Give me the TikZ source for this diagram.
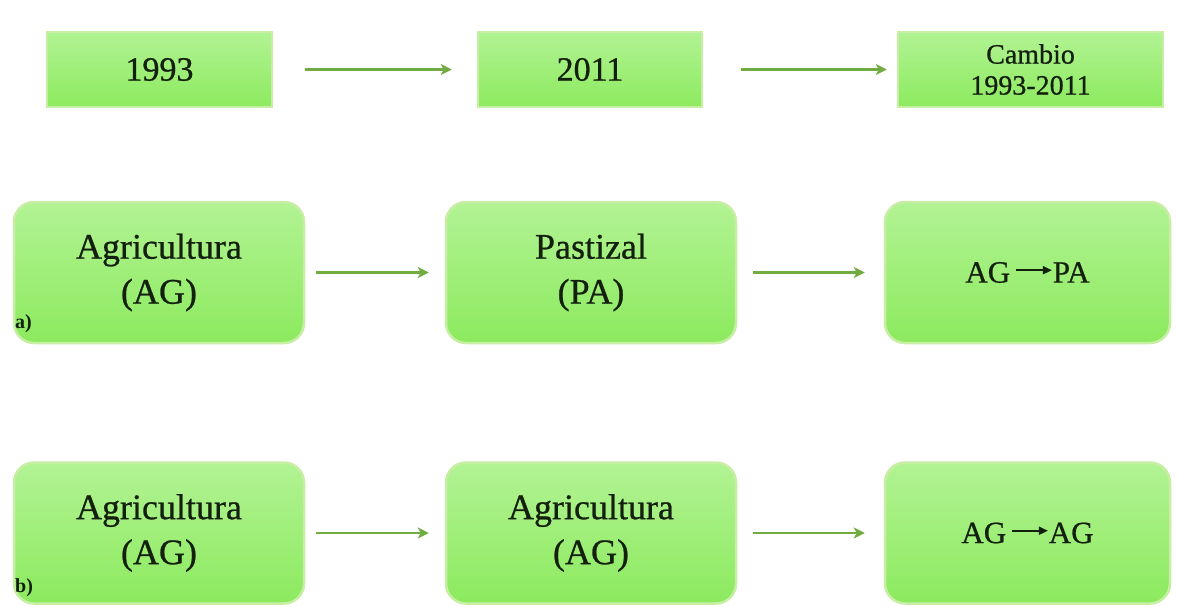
\documentclass[tikz,border=0pt]{standalone}
\usepackage{fontspec}
\setmainfont{Liberation Serif}
\newfontfamily\lblfont{Liberation Serif}[FakeBold=0.7]
\usetikzlibrary{arrows.meta}
\definecolor{boxtop}{RGB}{178,243,148}
\definecolor{boxbot}{RGB}{140,234,94}
\definecolor{boxedge}{RGB}{200,238,166}
\definecolor{arrowc}{RGB}{112,172,66}
\definecolor{txt}{RGB}{20,32,14}
\newcommand{\smallarr}{\tikz[baseline=-0.1em]\draw[txt, line width=1.8pt,-{Triangle[length=9pt,width=8pt]}] (0,0.3em) -- (1.15em,0.3em);}
\tikzset{
  yearbox/.style={draw=boxedge, line width=2.5pt, top color=boxtop, bottom color=boxbot,
    text=txt, align=center, inner sep=0pt},
  classbox/.style={yearbox, rounded corners=20pt, minimum width=290pt, minimum height=141pt},
  flow/.style={draw=arrowc, line width=2.6pt, -{Stealth[length=11pt,width=11pt,inset=3pt]}},
  tag/.style={text=txt, font=\fontsize{20}{22}\selectfont\bfseries, anchor=base west, inner sep=0pt}
}
\begin{document}
\begin{tikzpicture}[x=1pt,y=-1pt]
\useasboundingbox (0,0) rectangle (1177,606);
% top row
\node[yearbox, minimum width=225pt, minimum height=75pt, font=\lblfont\fontsize{34}{38}\selectfont] (t1) at (159.5,69.5) {1993};
\node[yearbox, minimum width=224pt, minimum height=75pt, font=\lblfont\fontsize{34}{38}\selectfont] (t2) at (590,69.5) {2011};
\node[yearbox, minimum width=265pt, minimum height=75pt, font=\lblfont\fontsize{28}{31}\selectfont] (t3) at (1030.5,69.5) {Cambio\\1993-2011};
% row a
\node[classbox, font=\lblfont\fontsize{36}{45}\selectfont] (a1) at (159,272.5) {Agricultura\\(AG)};
\node[classbox, font=\lblfont\fontsize{36}{45}\selectfont] (a2) at (591,272.5) {Pastizal\\(PA)};
\node[classbox, minimum width=285pt, font=\lblfont\fontsize{31}{36}\selectfont] (a3) at (1027.5,272.5) {AG\,\smallarr PA};
\node[tag] (la) at (15,328) {a)};
% row b
\node[classbox, font=\lblfont\fontsize{36}{45}\selectfont] (b1) at (159,533) {Agricultura\\(AG)};
\node[classbox, font=\lblfont\fontsize{36}{45}\selectfont] (b2) at (591,533) {Agricultura\\(AG)};
\node[classbox, minimum width=285pt, font=\lblfont\fontsize{31}{36}\selectfont] (b3) at (1027.5,533) {AG\,\smallarr AG};
\node[tag] (lb) at (15,592) {b)};
% connectors
\draw[flow, shorten <=32pt, shorten >=25pt] (t1.east) -- (t2.west);
\draw[flow, shorten <=38pt, shorten >=10pt] (t2.east) -- (t3.west);
\draw[flow, shorten <=11pt, shorten >=16pt] (a1.east) -- (a2.west);
\draw[flow, shorten <=16pt, shorten >=19pt] (a2.east) -- (a3.west);
\draw[flow, shorten <=11pt, shorten >=16pt] (b1.east) -- (b2.west);
\draw[flow, shorten <=16pt, shorten >=19pt] (b2.east) -- (b3.west);
\end{tikzpicture}
\end{document}
